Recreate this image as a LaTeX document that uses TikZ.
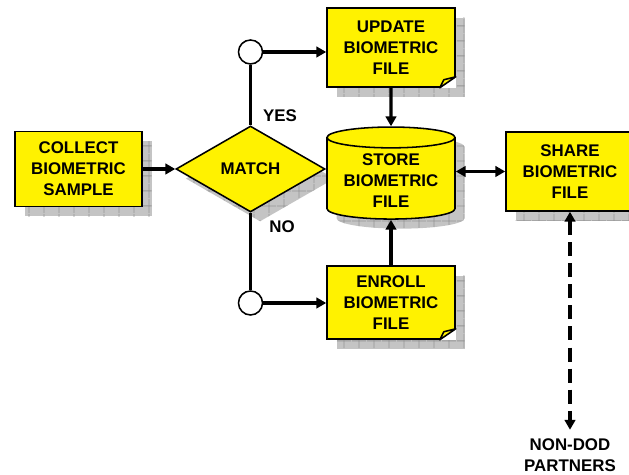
\documentclass[tikz,border=0pt]{standalone}
\usepackage{fontspec}
\setmainfont{Liberation Sans}
\usetikzlibrary{arrows.meta,shapes.geometric,shadows,patterns.meta}
\definecolor{shadowgray}{RGB}{196,196,196}
\definecolor{gridgray}{RGB}{150,150,150}

\begin{document}
\begin{tikzpicture}[
  lbl/.style={font=\fontsize{12}{15}\selectfont\bfseries, align=center},
  shadebox/.style={general shadow={fill=shadowgray, shadow xshift=0.24cm, shadow yshift=-0.24cm},
    general shadow={pattern={Hatch[angle=0, distance=0.375cm, line width=0.6pt]}, pattern color=gridgray, shadow xshift=0.24cm, shadow yshift=-0.24cm}},
  stepbox/.style={lbl, draw, line width=1.1pt, fill=yellow, minimum width=3.2cm, minimum height=1.9cm, inner sep=2pt, shadebox},
  decision/.style={lbl, diamond, draw, line width=1.1pt, fill=yellow, aspect=1.73, minimum width=3.725cm, minimum height=2.15cm, inner sep=0pt, shadebox},
  store/.style={lbl, cylinder, shape border rotate=90, aspect=0.2, draw, line width=1.1pt, fill=yellow, minimum width=3.2cm, minimum height=2.3cm, shadebox},
  junction/.style={circle, draw, line width=1.1pt, fill=white, minimum size=0.6cm, inner sep=0pt},
  tip/.tip={Triangle[length=7pt, width=7.5pt]},
  link/.style={line width=2.2pt},
  flow/.style={link, -tip},
  twoway/.style={link, tip-tip}
]
\useasboundingbox (0,0) rectangle (15.725,11.875);

\node[stepbox, minimum width=3.175cm, minimum height=1.875cm] (collect) at (1.9625, 7.65) {COLLECT\\BIOMETRIC\\SAMPLE};
\node[decision] (match) at (6.2625, 7.65) {MATCH};
\node[junction] (yes) at (6.2625, 10.575) {};
\node[junction] (no) at (6.2625, 4.3) {};
\node[stepbox, minimum height=1.975cm] (update) at (9.775, 10.6875) {UPDATE\\BIOMETRIC\\FILE};
\node[store] (file) at (9.775, 7.36) {STORE\\BIOMETRIC\\FILE};
\node[stepbox, minimum height=1.825cm] (enroll) at (9.775, 4.3125) {ENROLL\\BIOMETRIC\\FILE};
\node[stepbox, minimum height=1.975cm] (share) at (14.25, 7.5875) {SHARE\\BIOMETRIC\\FILE};
\node[lbl, inner ysep=6pt] (partners) at (14.25, 0.5) {NON-DOD\\PARTNERS};
\node[lbl] (yeslbl) at (7.0, 8.975) {YES};
\node[lbl] (nolbl) at (7.05, 6.2) {NO};

% folded corners
\foreach \n in {update, enroll} {
  \fill[white] ([xshift=-0.4cm]\n.south east) -- (\n.south east) -- ([yshift=0.275cm]\n.south east) -- cycle;
  \draw[line width=1.1pt, fill=yellow, line join=round] ([xshift=-0.4cm]\n.south east) -- ([yshift=0.275cm]\n.south east) -- ([xshift=-0.3cm, yshift=0.2cm]\n.south east) -- cycle;
}

\draw[flow] (collect) -- (match);
\draw[link] (match) -- (yes);
\draw[link] (match) -- (no);
\draw[flow] (yes) -- (yes -| update.west);
\draw[flow] (no) -- (no -| enroll.west);
\draw[flow] (update) -- (file);
\draw[flow] (enroll) -- (file);
\draw[twoway] (file.east |- share.west) -- (share.west);
\draw[twoway, dash pattern=on 10pt off 5pt] (share) -- (partners);

\end{tikzpicture}
\end{document}
